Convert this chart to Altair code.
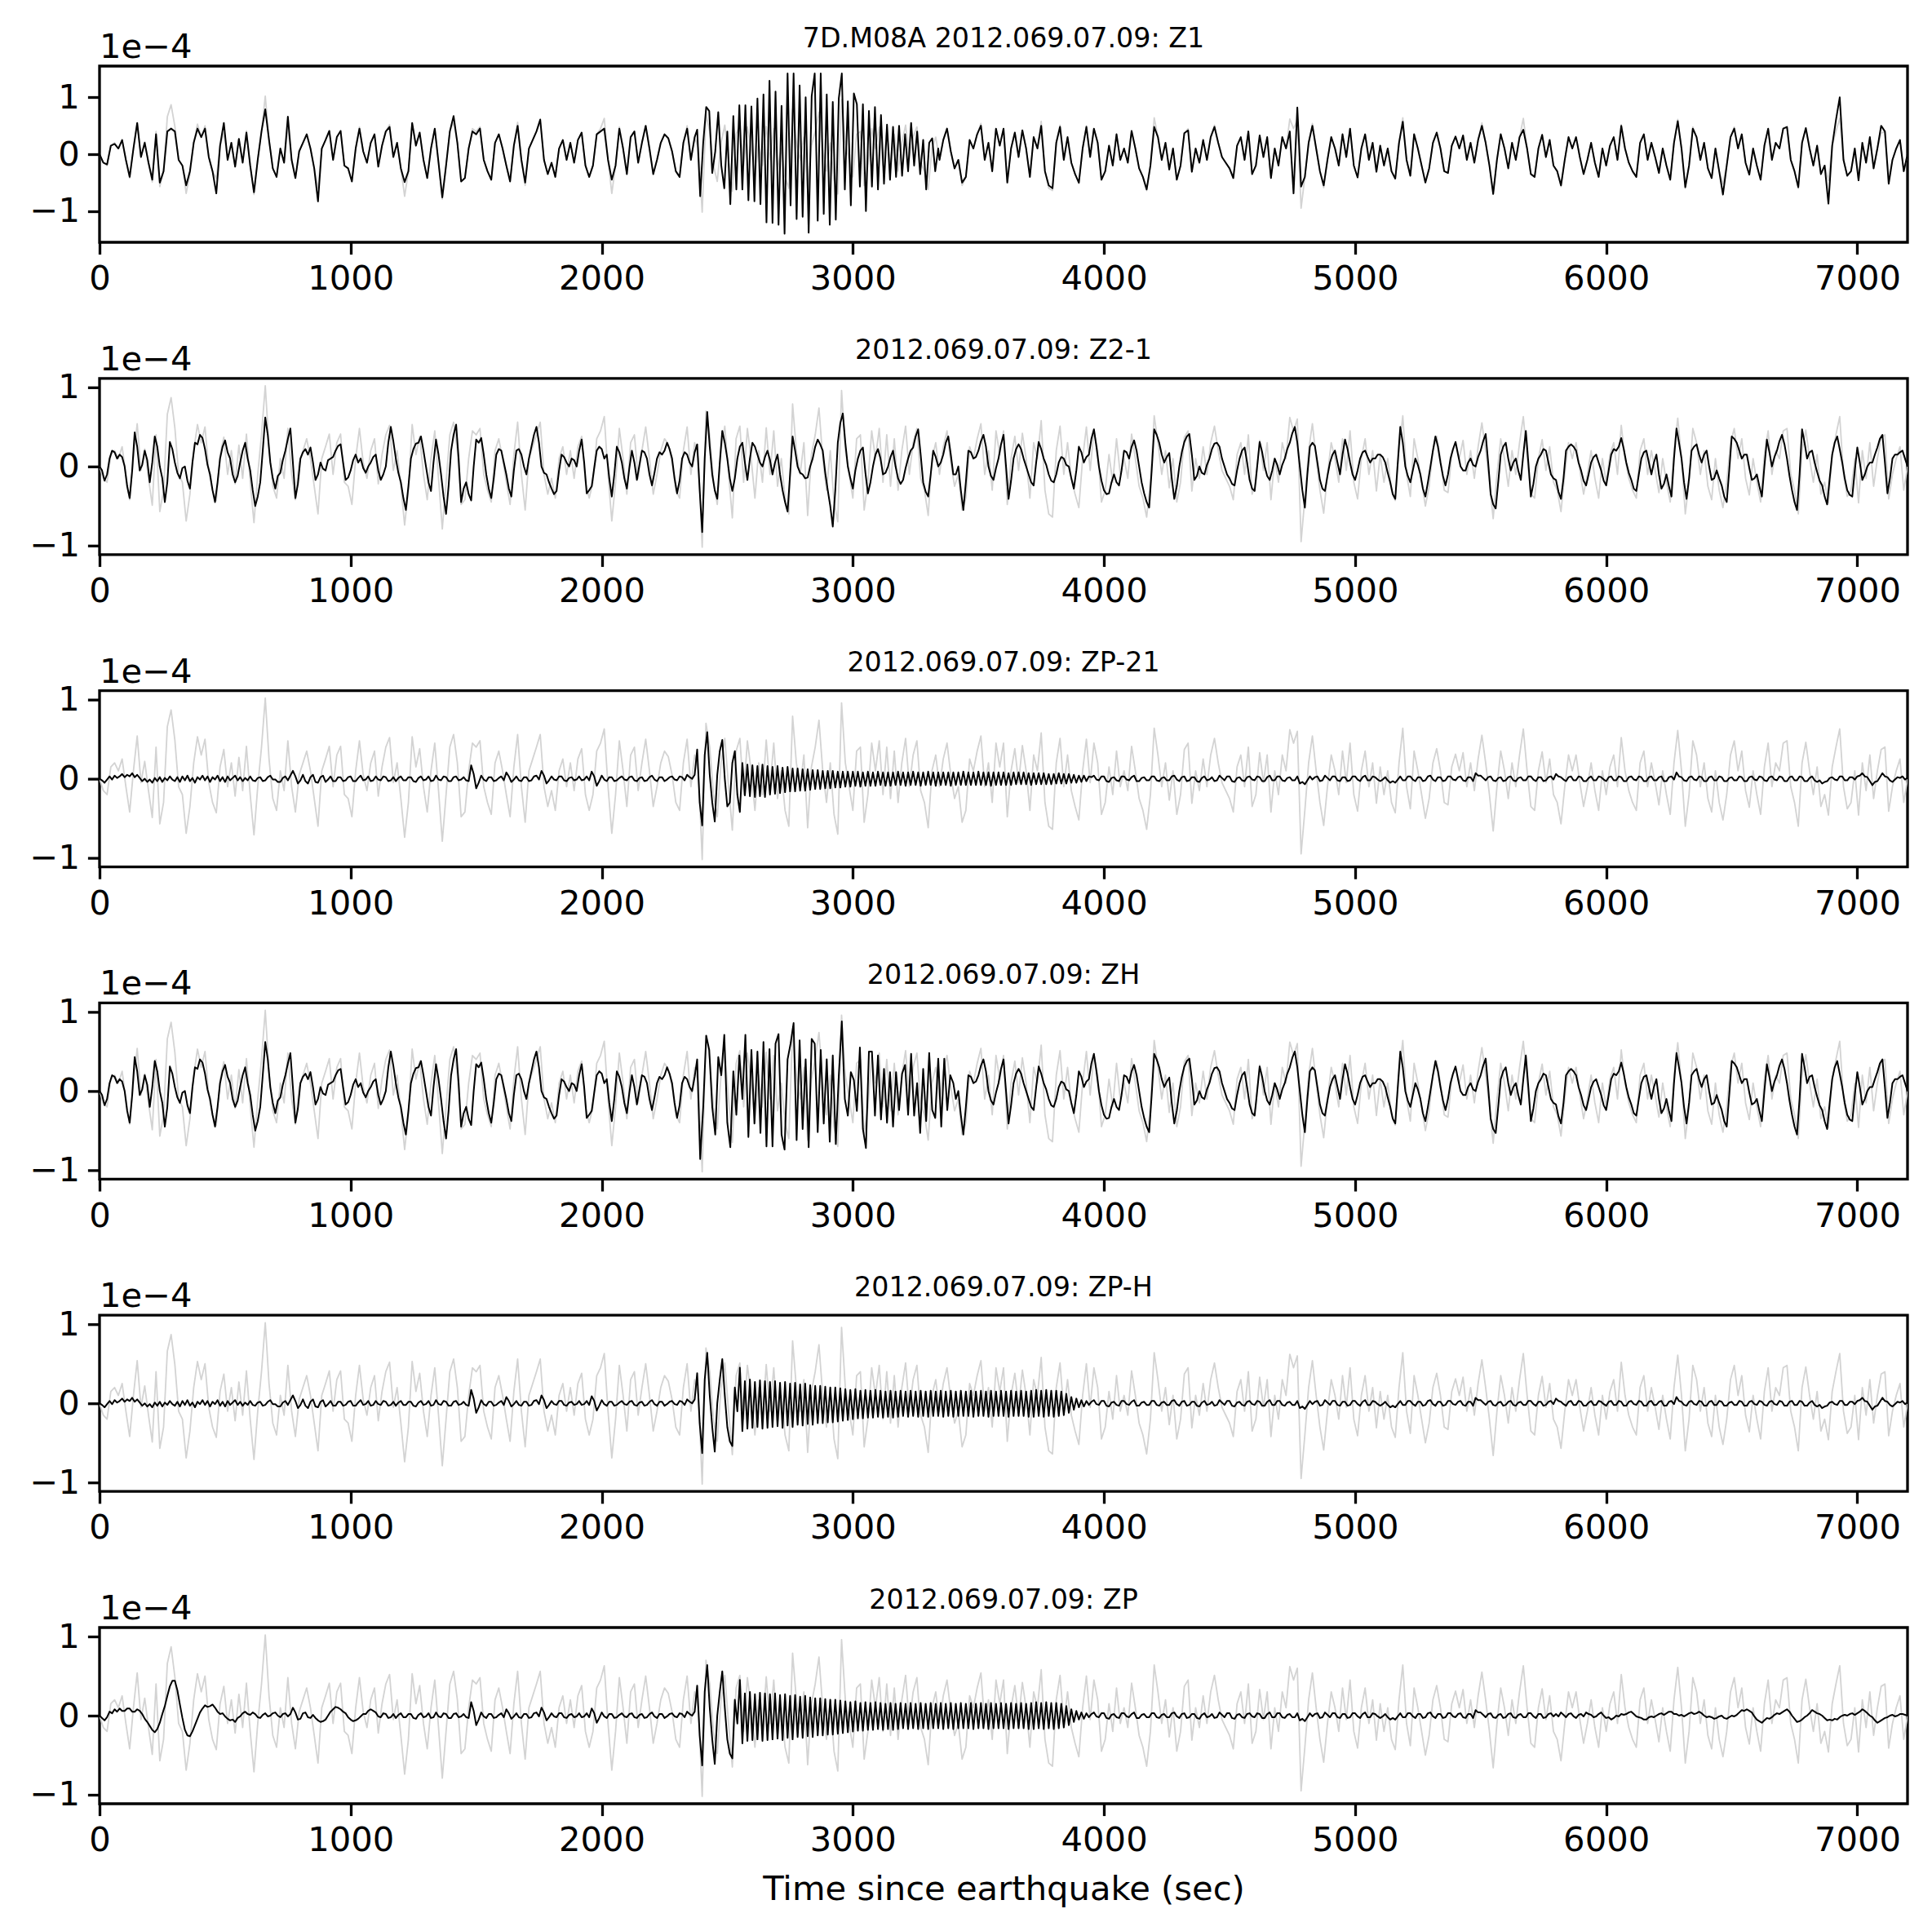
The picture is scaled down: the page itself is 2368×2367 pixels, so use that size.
import altair as alt
import pandas as pd

# ------------------------------------------------------------------
# Data: amplitudes in units of 1e-6 (hundredths of the 1e-4 axis unit)
# ------------------------------------------------------------------
# Gray background trace (same in every panel), 15 s samples, blocks of 300 s
gray_blocks = [
    [0, -15, -20, 15, 20, 10, 25, -10, -42, 10, 54, -5, 22, -15, -49, 40, -57, -30, 66, 87],
    [49, -10, -20, -69, -35, 20, 53, 30, 50, -5, -30, -43, 15, 37, -10, 20, -22, 27, -15, 41],
    [-20, -71, -10, 40, 102, 25, -25, -40, 10, -15, 48, -10, -42, 5, 20, 35, 10, -25, -60, 10],
    [25, 41, -10, 30, 41, -20, -25, -48, 10, 48, 5, -15, 20, 35, -22, 15, 40, 52, -5, 20],
    [-25, -74, -30, 53, 15, 38, -10, -42, 10, 45, -15, -79, -20, 40, 56, 20, -48, -42, 10, 45],
    [40, 48, -10, -30, -45, 20, 35, 10, -20, -48, 15, 56, -10, -55, 10, 25, 40, 56, -10, -35],
    [-15, -40, 10, 25, -10, 20, -15, 25, 38, -20, -40, -20, 35, 45, 63, -10, -69, -20, 48, 10],
    [-35, 30, 40, -15, 20, 50, 10, -35, -10, 20, 35, 28, 5, -30, -40, 20, 50, -10, 30, 10],
    [-102, 70, 40, -20, -48, 20, 51, -10, -65, 35, 51, -20, 48, 10, -40, 20, -20, 49, -10, 45],
    [-25, 10, -40, -60, 79, 20, -10, 30, -62, 15, 40, 74, 10, -30, 20, -45, -70, 96, 20, -10],
    [-40, 35, 40, -55, -20, 45, 10, 48, -20, 40, -25, 35, -30, 20, 51, -10, 30, 48, -15, -30],
    [-62, 10, 30, -10, 25, 45, 5, -25, -10, -55, -40, 25, 10, 35, 54, -10, 20, -30, 45, 15],
    [45, -48, 10, 38, -5, 42, 10, -40, 30, 10, 58, -30, -60, -64, 20, 51, -10, 30, -15, -35],
    [-52, 10, 50, -5, 45, 20, -45, -30, 15, -20, 35, -10, 10, -15, 41, 10, -25, -40, -64, -20],
    [64, 30, -10, 20, -27, 10, -45, -20, 37, 45, -31, 10, -15, 25, -10, 30, 51, 20, -5, -15],
    [-25, -42, 15, 30, -10, 40, -35, -20, 33, -5, 30, -42, 10, -20, 30, 10, 62, 45, 60, -95],
    [-40, 20, 54, 10, -30, -59, -10, 30, 10, -20, 35, -5, 45, -20, -41, 10, 35, -10, 20, -31],
    [15, -20, 10, -30, -43, 20, 64, -10, -38, 35, 10, -20, -50, -25, 20, 38, 10, -30, -33, 15],
    [31, 10, 33, -10, 20, -15, 25, 55, 20, -20, -66, -10, 35, 10, -25, 20, -10, 30, 63, 10],
    [-35, -40, 10, 34, -5, 25, -20, -30, -57, -10, 30, 10, 30, -5, -35, -10, 20, -15, -40, 10],
    [-20, 15, 30, -10, 52, 10, -15, -30, -40, 20, 35, -10, 20, -5, -33, 10, -20, -45, 20, 61],
    [10, -60, -20, 48, 30, -10, 20, -25, -42, 10, -30, -52, -20, 30, 48, 10, 35, -15, -36, 10],
    [-20, -45, 15, 45, -10, 20, 10, 45, 48, -10, -30, -60, 20, 46, 10, -20, 15, -35, -20, -46],
    [15, 40, 63, -10, -38, -30, 10, -46, 20, -15, 30, -25, 10, 37, 40, -41, -10, 10, 25, -30],
]
gray_last = 0

# Z1 black trace outside the arrival, 15 s samples, blocks of 300 s
z1_blocks = [
    [0, -15, -18, 15, 18, 10, 25, -10, -40, 10, 55, -5, 20, -15, -45, 35, -50, -30, 40, 45],
    [40, -10, -20, -55, -30, 20, 45, 30, 45, -5, -30, -69, 15, 55, -10, 20, -22, 27, -15, 38],
    [-20, -67, -10, 40, 79, 25, -25, -40, 10, -15, 66, -10, -42, 5, 20, 35, 10, -25, -83, 10],
    [25, 41, -10, 30, 41, -20, -25, -48, 10, 45, 5, -15, 20, 35, -22, 15, 40, 48, -5, 20],
    [-25, -49, -30, 55, 15, 38, -10, -42, 10, 45, -15, -76, -20, 40, 67, 20, -48, -42, 10, 40],
    [35, 45, -10, -30, -45, 20, 35, 10, -20, -48, 15, 50, -10, -50, 10, 25, 40, 61, -10, -35],
    [-15, -40, 10, 25, -10, 20, -15, 25, 38, -20, -40, -20, 35, 40, 45, -10, -45, -20, 45, 10],
    [-35, 30, 40, -15, 20, 50, 10, -35, -10, 20, 35, 28, 5, -30, -40, 20, 45, -10, 30, 10],
    [-80, 60, 40, -20, -48, 20, 51, -10, -65, 35, 51, -20, 48, 10, -40, 20, -20, 49, -10, 45],
    [-25, 10, -40, -60, 70, 20, -10, 30, -62, 15, 40, 70, 10, -30, 20, -45, -70, 80, 20, -10],
    [-40, 35, 40, -55, -20, 45, 10, 48, -20, 40, -25, 35, -30, 20, 51, -10, 30, 48, -15, -30],
    [-55, 10, 30, -10, 25, 45, 5, -25, -10, -50, -40, 25, 10, 35, 50, -10, 20, -30, 45, 15],
    [45, -50, 10, 38, -5, 42, 10, -40, 30, 10, 50, -30, -55, -60, 20, 48, -10, 30, -15, -35],
    [-50, 10, 48, -5, 45, 20, -45, -30, 15, -20, 35, -10, 10, -15, 41, 10, -25, -40, -62, -20],
    [48, 30, -10, 20, -27, 10, -45, -20, 37, 42, -31, 10, -15, 25, -10, 30, 48, 20, -5, -15],
    [-25, -42, 15, 30, -10, 40, -35, -20, 33, -5, 30, -42, 10, -20, 30, 10, 40, -69, 82, -57],
    [-40, 20, 50, 10, -30, -55, -10, 30, 10, -20, 35, -5, 45, -20, -41, 10, 35, -10, 20, -31],
    [15, -20, 10, -30, -43, 20, 57, -10, -38, 35, 10, -20, -50, -25, 20, 38, 10, -30, -33, 15],
    [31, 10, 33, -10, 20, -15, 25, 50, 20, -20, -70, -10, 35, 10, -25, 20, -10, 30, 43, 10],
    [-35, -40, 10, 34, -5, 25, -20, -30, -55, -10, 30, 10, 30, -5, -35, -10, 20, -15, -40, 10],
    [-20, 15, 30, -10, 50, 10, -15, -30, -40, 20, 35, -10, 20, -5, -33, 10, -20, -45, 20, 58],
    [10, -58, -20, 45, 30, -10, 20, -25, -42, 10, -30, -71, -20, 30, 45, 10, 35, -15, -36, 10],
    [-20, -45, 15, 45, -10, 20, 10, 45, 48, -10, -30, -58, 20, 46, 10, -20, 15, -35, -20, -87],
    [15, 60, 100, -10, -38, -30, 10, -46, 20, -15, 30, -25, 10, 50, 40, -52, -10, 10, 25, -30],
]
z1_last = 0
# Z1 arrival, 12 s samples from 2380 s
z1_event = [43, -74, 20, 83, 76, -33, 5, 74, -20, -60, 40, -88, 67, -62, 86, -62, 86, -81, 84, -83,
            98, -88, 105, -120, 129, -121, 110, -124, 85, -140, 142, -90, 142, -114, 121, -110, 100,
            -138, 102, 142, -117, 142, -105, 105, -124, 92, -115, 98, 142, -62, 93, -90, 107, 88, -57,
            88, -100, 76, -57, 83, -62, 69, -52, 52, -45, 48, -40, 50, -38, 35, -30, 55, -20, 40, -35,
            25, -62, 20, 28, -30, 10]

# Z2-1 black trace (also ZH outside its arrival): samples at 300k + 20i ...
z21_blocks = [
    [0, -18, 10, 18, 15, 0, -40, 43, -5, 20, -20, 38, 0, -45, 31],
    [5, -15, 0, -28, 30, 40, 22, -10, -45, 10, 33, 10, -20, 5, 30],
    [-5, -50, -20, 62, 5, -28, -8, 20, 48, -40, 10, 22, 24, -17, 5],
    [-5, 10, 20, 28, -17, -5, 15, 10, -8, 5, 15, -17, 0, 50, 10],
    [-20, -55, 10, 29, 38, 0, -31, 34, -10, -60, 20, 53, -45, -20, -43],
    [34, 36, -10, -40, 15, 20, -10, -38, 20, 15, -10, 25, 50, 0, -10],
    [-28, -31, 15, 5, 10, 0, 34, -34, -25, 20, 22, 15, -38, 25, 5],
    [-28, 20, -17, 20, 10, -24, 10, 15, 30, 10, -34, 10, 15, 0, 28],
    [-83, 69, -10, -41, 45, 10, -31, 10, 30, -17, 30, 15, 0, 20, -10],
    [15, -30, -57, 38, 0, -10, -14, 10, 34, 20, -30, -76, 30, 67, 0],
    [-28, 10, 24, -34, 0, 22, -10, 0, 20, -15, -17, 10, 24, 47, -20],
    [-38, 20, 0, 15, 38, -10, 0, -55, 20, 10, 20, 40, 0, -17, 10],
    [40, -41, 10, 28, 10, -10, -24, 31, 10, -10, -20, 5, 10, 0, -28],
    [25, 5, 15, 47, 0, -30, -34, -10, -24, 20, 10, 33, 0, -34, -52],
    [47, 30, 5, 17, -41, 0, 31, 41, -17, 0, -10, 10, 29, 25, 0],
    [-15, -24, 10, 24, -17, -31, 31, 0, -17, 10, -10, 10, 30, 50, 0],
    [-52, 25, 26, -17, -31, 5, 20, -10, 34, 5, -17, 10, 20, 5, 10],
    [15, 5, -20, -41, 50, 0, -20, 10, -10, -38, 0, 38, 5, -24, 10],
    [31, 0, -5, 10, 0, 20, 41, -35, -53, 15, 30, -5, 10, -17, 45],
    [-38, 0, 15, 20, -10, -17, -41, 20, 28, 20, -5, -24, 5, 15, -5],
    [-24, 15, 20, 36, 5, -17, -31, 10, 20, -10, 15, -28, -10, -38, 48],
    [10, -41, 20, 28, 5, 20, -17, -5, -24, -45, 38, 30, 10, 15, -17],
    [-10, -38, 34, 0, 20, 40, 10, -30, -55, 47, 10, 20, -7, -24, -48],
    [15, 38, 5, -30, -38, 24, -17, 0, 5, 24, 40, -34, 10, 15, 20],
]
z21_last = 0
# ... and at 300k + 10 + 20i
z21_mid_blocks = [
    [-5, -10, 20, 10, 12, -25, -5, 25, 2, 8, 5, 25, -15, -20, 22],
    [-8, -2, -18, 5, 28, 36, 2, -30, -20, 25, 18, -10, -12, 20, 10],
    [-30, -38, 20, 40, -15, -12, 8, 35, 5, -22, 18, 15, 5, -10, -3],
    [8, 12, 26, 5, -14, 8, 5, -2, 0, 12, -5, -10, 30, 32, -8],
    [-40, -25, 22, 30, 20, -20, 5, 15, -38, -25, 40, 10, -28, -35, 0],
    [30, 15, -28, -15, 22, 5, -28, -5, 22, 0, 10, 40, 30, -8, -20],
    [-35, -5, 12, 0, 8, 20, 5, -30, -2, 25, 10, -15, -10, 18, -15],
    [-2, 5, 2, 18, -10, -8, 18, 20, 22, -15, -18, 18, 5, 18, -30],
    [10, 25, -30, 5, 30, -15, -15, 25, 5, 10, 25, 5, 12, 8, 5],
    [-10, -45, -10, 20, -8, -15, 0, 25, 28, -8, -50, -30, 55, 30, -15],
    [-5, 20, -8, -20, 15, 10, -8, 12, 0, -22, -2, 20, 38, 15, -32],
    [-10, 12, 5, 30, 15, -10, -30, -20, 18, 12, 32, 25, -12, -2, 28],
    [0, -18, 22, 22, 0, -20, 5, 22, 2, -18, -10, 12, 2, -15, -5],
    [18, 12, 35, 25, -18, -35, -20, -20, -5, 18, 25, 20, -20, -45, -5],
    [40, 15, 12, -15, -25, 18, 38, 15, -12, -8, 2, 22, 30, 10, -10],
    [-22, -5, 20, 5, -28, 0, 18, -12, -5, 2, 2, 22, 42, 30, -30],
    [-10, 30, 5, -28, -12, 15, 5, 15, 22, -10, -5, 18, 12, 10, 15],
    [12, -8, -35, 5, 30, -12, -5, 2, -28, -20, 20, 25, -12, -10, 22],
    [15, -5, 5, 2, 12, 32, 5, -48, -20, 25, 10, 5, -5, 15, 5],
    [-22, 10, 22, 5, -15, -32, -15, 25, 25, 5, -18, -10, 12, 5, -18],
    [-5, 22, 25, 22, -8, -28, -10, 18, 5, 5, -10, -22, -25, 10, 30],
    [-20, -15, 25, 15, 15, 0, -15, -15, -38, -5, 35, 20, 15, -2, -15],
    [-25, 0, 18, 12, 32, 28, -12, -45, -10, 30, 18, 5, -18, -38, -15],
    [30, 22, -15, -36, -5, 5, -10, 5, 15, 35, 5, -15, 15, 18, 10],
]
# ZH arrival, 12 s samples from 2380 s
zh_event = [40, -86, -20, 70, 52, -20, -55, 43, 20, 71, -40, -71, 25, -30, 45, -10, 71, -58, 52, -41,
            50, -53, 62, -70, 53, -70, 60, 72, -55, -74, 40, 60, 86, -62, 64, -48, 40, -71, 66, 60,
            -52, 52, -41, 40, -64, 45, -67, 20, 88, -10, -31, 24, 14, -25, 55, -48, -72, 50, 50, -31,
            45, -36, 28, -40, 24, -45, 24, -24, 22, 33, -30, 47, -31, 10, -53, 28, -38, 48, -24, -34,
            41, -45, 41, -24, 20, 10]

# Small background noise of the ZP-21 / ZP-H / ZP traces, 10 s samples, blocks of 300 s
zp_fill = [3, -2, -3, 2, 2, -3, -2, 3, 3, -2, -3, 2, 2, -3, -2, 3, 3, -2, -3, 2, 2, -3, -2, 3, 3, -2, -3, 2, 2, -3]
zp_noise_blocks = [
    [0, -2, -5, -1, 3, -1, 4, 1, 3, 6, 2, 5, 3, 7, 2, 5, 1, -3, 0, -4, -1, -5, 1, -3, 2, -4, 1, -2, 3, -1],
    [-3, 2, -4, 3, -2, 4, -3, 1, -5, 2, -1, 4, -2, 3, -4, 2, -1, 4, -3, 2, -4, 3, -2, 1, 4, -2, 2, -3, 1, -2],
    [3, -2, -3, 1, 2, -3, -2, 2, 4, -1, -1, -4, -4, 1, 3, -2, 4, 10, 3, -6, -2, 5, -3, -6, 2, 5, -4, -5, 2, 4],
    [-4, -1, 3, -3, -3, 2, 2, -3, -2, 2, 3, -3, -3, 1, 4, -2, -1, 3, -3, -2, 3, -1, -2, 3, 2, -3, -2, 2, -3, 1],
    [3, -2, -2, 2, 2, -3, -4, 1, 3, -2, -1, 3, -3, -2, 4, -1, -2, 3, 2, -3, -3, 2, 3, -2, -1, 2, -2, -3, 17, 6],
    [-12, -5, 4, -1, -3, 2, 2, -3, -2, 1, 3, -2, 8, 3, -4, -1, 3, -2, -3, 2, 2, -3, -2, 3, 4, -1, 10, 4, -6, -2],
    [3, -1, -2, 3, 3, -2, -3, 1, 2, -2, -1, 3, -2, -1, 3, -2, 9, 3, -9, -3, 4, -1, -3, 2, 2, -3, -2, 1, 3, -1],
    [-2, 2, 3, -2, -3, 1, 2, -3, -2, 2, 4, -1, -3, 2, 2, -3, -1, 2, 3, -1, -2, 3, 2, -2, 5, 2, 0, -2, 2, 3],
    zp_fill, zp_fill, zp_fill, zp_fill, zp_fill,
    [-2, 2, 3, -3, -3, 2, 4, -1, -2, 3, 3, -3, -4, 1, 2, -2, -3, 3, 3, -1, -2, 2, 4, -3, -3, 1, 2, -2, -2, 3],
    [3, -2, -3, 1, 2, -2, -2, 3, 4, -1, -3, 2, 3, -3, -2, 2, 2, -3, -4, 1, 3, -2, -1, 2, -3, -2, 4, 1, -2, 3],
    [3, -3, -4, 1, 2, -2, -3, 2, 3, -1, -2, 3, 2, -3, -3, 2, 4, -2, -2, 3, 3, -2, -3, 1, 2, -2, -2, 3, -6, -4],
    [-7, -2, 3, -1, 2, 3, -3, -2, 4, 1, -2, 3, 3, -2, -3, 2, 2, -3, -2, 3, 3, -1, -3, 2, 4, -2, -2, 3, 2, -1],
    [-3, -1, 2, -2, -5, -3, -5, -1, 3, -2, -2, 3, 3, -1, -3, 2, 2, -3, -2, 3, 4, -1, -3, 2, 2, -3, -2, 3, 3, -1],
    [-2, 2, 3, -2, -3, 2, 2, -3, 7, 4, 4, 1, -2, 2, 3, -2, -3, 1, 2, -3, -2, 2, 3, -2, -3, 1, 2, -2, -2, 3],
    [3, -1, -3, 2, 2, -3, -2, 2, 3, -1, 6, 3, 2, -1, -3, 2, 3, -2, -2, 3, 2, -3, -3, 1, 3, -2, -2, 3, 2, -1],
    [-3, 2, 3, -2, -2, 3, 2, -3, -3, 2, 3, -1, -2, 3, 2, -3, -3, 2, 3, -2, -2, 2, 3, -3, -3, 2, 3, -1, 8, 3],
    [2, -2, -3, 2, 3, -1, -2, 3, 2, -3, -3, 2, 3, -2, -2, 3, 2, -3, -3, 1, 2, -2, -2, 3, 2, -3, -3, 2, 3, -1],
    [-2, 3, 2, -2, -3, 2, 3, -1, -2, 3, 2, -3, -3, 2, 3, -2, -2, 3, 2, -3, -3, 1, 3, -2, -4, -2, -6, -4, -3, 1],
    [2, -1, -2, 3, 3, -2, -2, 2, 2, -1, 3, 4, 7, 3, 2, -3, -8, -4, -3, 2, 7, 3, 2, -2, -4, -1, 2, 1, 3, -1],
]
zp_noise_last = 1
# ZP-21 arrival and coda, 10 s samples from 2370 s
zp21_event = [
    5, 37, -30, -59, 30, 59, 5, -30, -54, 5,
    35, 49, 0, -35, -30, 20, 35, -20, -42, 20,
    -21, 18, -22, 17, -23, 16, -22, 18, -23, 16,
    -20, 15, -19, 16, -18, 14, -17, 15, -16, 13,
    -16, 13, -15, 12, -15, 12, -14, 11, -13, 11,
    -13, 10, -12, 10, -12, 10, -11, 9, -11, 9,
    -10, 9, -10, 9, -9, 9, -10, 8, -9, 9,
    -9, 8, -9, 9, -8, 8, -9, 8, -9, 8,
    -8, 9, -8, 8, -9, 8, -8, 9, -8, 8,
    -9, 8, -8, 9, -8, 8, -9, 8, -8, 8,
    -8, 8, -9, 8, -8, 8, -8, 9, -8, 8,
    -8, 8, -8, 9, -8, 8, -8, 8, -9, 8,
    -8, 8, -8, 8, -8, 7, -8, 8, -7, 8,
    -7, 8, -7, 7, -8, 7, -7, 7, -7, 7,
    -7, 6, -7, 6, -6, 7, -6, 6, -6, 6,
    -5, 5, -5, 4, -4, 4, -3, 3,
]
# ZP-H (and ZP) arrival and coda, 10 s samples from 2370 s
zph_event = [
    5, 38, -25, -63, 30, 64, 10, -30, -61, 0,
    30, 56, 10, -30, -48, -54, 20, -10, 45, -35,
    28, -32, 30, -31, 27, -30, 29, -32, 28, -31,
    27, -30, 28, -29, 26, -31, 27, -28, 25, -30,
    26, -27, 24, -28, 25, -26, 23, -27, 22, -25,
    22, -25, 21, -24, 20, -24, 20, -23, 19, -22,
    18, -21, 17, -20, 18, -19, 16, -19, 17, -18,
    16, -18, 17, -17, 16, -18, 15, -17, 16, -18,
    15, -17, 16, -16, 15, -17, 16, -16, 15, -17,
    16, -16, 15, -17, 16, -16, 15, -16, 16, -17,
    15, -16, 16, -17, 15, -16, 16, -16, 15, -16,
    16, -17, 15, -16, 16, -16, 15, -17, 16, -16,
    15, -16, 16, -16, 15, -17, 16, -16, 15, -16,
    16, -16, 15, -17, 16, -17, 17, -16, 16, -17,
    17, -16, 16, -17, 16, -16, 15, -15, 12, -12,
    8, -8, 6, -5, 4, -4, 3, -2,
]
# ZP long-period parts, 10 s samples
zp_early = [0, -3, -6, -2, 5, 3, 8, 5, 9, 6, 6, 9, 9, 5, 5, 8, 6, 2, -4, -8,
            -13, -18, -21, -17, -9, 2, 12, 25, 37, 44, 44, 32, 14, -3, -18, -25, -26, -20, -12, -4,
            4, 9, 13, 11, 12, 14, 10, 5, 2, 3, -1, -4, -6, -5, -8, -3, -1, 3, 5, 2,
            1, 4, 2, -2, -3, 1, 3, -1, 0, 3, 4, 0, -2, 2, 3, -1, 2, 10, 4, -5,
            -4, 3, 4, -2, -3, 1, -3, -6, -8, -7, -5, 0, 5, 8, 11, 10, 8, 5, 3, -2,
            -5, -7, -6, -4, -1, 2, 2, 6, 8, 6, 4]                                   # from 0 s
zp_late = [2, -1, 4, 1, -2, 2, 3, -1, -3, 1, 2, -1, 4, 2, 1, -2, -1, 2, 4, 0,
           -3, -2, -5, -3, 0, -1, 2, 1, 2, 4, 5, 2, -1, -2, -3, -5, -5, -2, -1, -2,
           0, 2, 3, 1, 3, 5, 5, 2, 2, 0, 1, -1, 1, 3, 4, 2, 3, 5, 3, 0,
           -2, -1, -2, -4, -3, -1, 0, -3, -4, -2, 0, -1, 1, 4, 7, 6, 8, 6, 4, -1,
           -5, -7, -9, -6, -3, -4, -2, 1, 3, 2, 4, 6, 8, 5, 0, -4, -8, -7, -5, -2,
           0, 3, 7, 5, 3, 2, 0, -3, -6, -5, -6, -4, -5, -2, 0, 1, 0, 2, 3, 1,
           3, 5, 8, 6, 3, 0, -2, -6, -9, -7, -5, -3, -2, 0, 1, -1, 0, 2, 2, 1, 0]   # from 5800 s

titles = ["7D.M08A 2012.069.07.09: Z1", "2012.069.07.09: Z2-1", "2012.069.07.09: ZP-21",
          "2012.069.07.09: ZH", "2012.069.07.09: ZP-H", "2012.069.07.09: ZP"]
x_ticks = [0, 1000, 2000, 3000, 4000, 5000, 6000, 7000]
y_ticks = [-1, 0, 1]
y_limits = [1.55, 1.114, 1.114, 1.114, 1.114, 1.114]


# ------------------------------------------------------------------
def blocks_pts(blocks, block_len, step, last=None, t_off=0):
    pts = []
    for k, blk in enumerate(blocks):
        for i, v in enumerate(blk):
            pts.append((k * block_len + t_off + i * step, v / 100.0))
    if last is not None:
        pts.append((len(blocks) * block_len, last / 100.0))
    return pts


def flat_pts(vals, t0, step):
    return [(t0 + i * step, v / 100.0) for i, v in enumerate(vals)]


def splice(base, ins):
    a, b = ins[0][0], ins[-1][0]
    return [p for p in base if p[0] < a] + ins + [p for p in base if p[0] > b]


gray = blocks_pts(gray_blocks, 300, 15, gray_last)
z1 = splice(blocks_pts(z1_blocks, 300, 15, z1_last), flat_pts(z1_event, 2380, 12))
z21 = sorted(blocks_pts(z21_blocks, 300, 20, z21_last) + blocks_pts(z21_mid_blocks, 300, 20, None, 10))
zp_base = blocks_pts(zp_noise_blocks, 300, 10, zp_noise_last)
zp21 = splice(zp_base, flat_pts(zp21_event, 2370, 10))
zh = splice(z21, flat_pts(zh_event, 2380, 12))
zph = splice(zp_base, flat_pts(zph_event, 2370, 10))
zp = splice(splice(splice(zp_base, flat_pts(zp_early, 0, 10)),
                   flat_pts(zph_event, 2370, 10)), flat_pts(zp_late, 5800, 10))
blacks = [z1, z21, zp21, zh, zph, zp]

W, H = 2216, 216
FONT = "DejaVu Sans"
FS = 41.7
TFS = 33.3
LW_BLACK = 2.0
LW_GRAY = 1.8
GRAY = "#d3d3d3"

gray_df = pd.DataFrame(gray, columns=["t", "v"])


def panel(k):
    last = k == len(blacks) - 1
    ax_kw = dict(values=x_ticks, format="d", labelFlush=False)
    ax_kw["title"] = "Time since earthquake (sec)" if last else ""
    xenc = alt.X("t:Q", scale=alt.Scale(domain=[0, 7200], nice=False, zero=False),
                 axis=alt.Axis(**ax_kw))
    yenc = alt.Y("v:Q", scale=alt.Scale(domain=[-y_limits[k], y_limits[k]], nice=False, zero=False),
                 axis=alt.Axis(values=y_ticks, format="d", title=""))
    g = alt.Chart(gray_df).mark_line(color=GRAY, strokeWidth=LW_GRAY, clip=True,
                                     strokeJoin="round").encode(x=xenc, y=yenc)
    bdf = pd.DataFrame(blacks[k], columns=["t", "v"])
    b = alt.Chart(bdf).mark_line(color="black", strokeWidth=LW_BLACK, clip=True,
                                 strokeJoin="round").encode(x=xenc, y=yenc)
    t = alt.Chart(pd.DataFrame({"s": [titles[k]]})).mark_text(
        align="center", baseline="alphabetic", font=FONT, fontSize=TFS, color="black"
    ).encode(text="s:N", x=alt.value(W / 2), y=alt.value(-23.5))
    o = alt.Chart(pd.DataFrame({"s": ["1e\u22124"]})).mark_text(
        align="left", baseline="alphabetic", font=FONT, fontSize=FS, color="black"
    ).encode(text="s:N", x=alt.value(0), y=alt.value(-10))
    return alt.layer(g, b, t, o).properties(width=W, height=H)


chart = alt.vconcat(*[panel(k) for k in range(len(blacks))], spacing=166.8, bounds="flush")
chart = chart.properties(
    padding={"left": 26, "top": 20, "right": 5, "bottom": 5}
).configure_view(
    stroke="black", strokeWidth=3.3
).configure_axis(
    domain=False, grid=False, ticks=True, tickColor="black", tickWidth=3.3, tickSize=14.6,
    labelFont=FONT, labelFontSize=FS, labelColor="black", labelPadding=10,
    titleFont=FONT, titleFontSize=FS, titleFontWeight="normal", titleColor="black", titlePadding=18.5
)

chart.save("out.html", embed_options={"renderer": "svg", "actions": False})
